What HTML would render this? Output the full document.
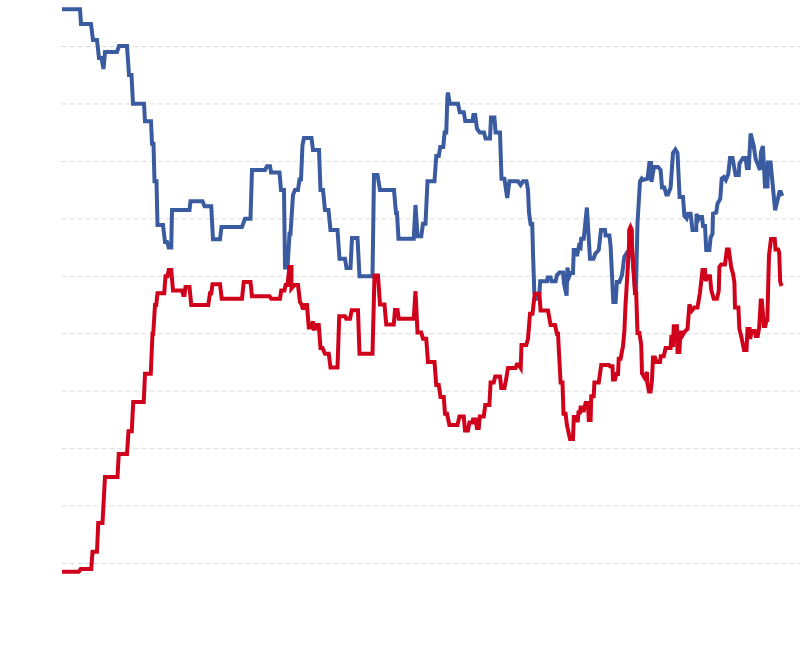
<!DOCTYPE html>
<html><head><meta charset="utf-8"><style>
html,body{margin:0;padding:0;background:#fff;font-family:"Liberation Sans",sans-serif;}
svg{display:block}
.g line{stroke:#dcdcdc;stroke-width:1;stroke-dasharray:5 3;shape-rendering:auto}
.l{fill:none;stroke-width:4;stroke-linejoin:miter;stroke-linecap:butt}
</style></head><body>
<svg width="800" height="662" viewBox="0 0 800 662">
<g class="g"><line x1="61.5" x2="800" y1="46.50" y2="46.50"/><line x1="61.5" x2="800" y1="103.94" y2="103.94"/><line x1="61.5" x2="800" y1="161.39" y2="161.39"/><line x1="61.5" x2="800" y1="218.83" y2="218.83"/><line x1="61.5" x2="800" y1="276.28" y2="276.28"/><line x1="61.5" x2="800" y1="333.72" y2="333.72"/><line x1="61.5" x2="800" y1="391.16" y2="391.16"/><line x1="61.5" x2="800" y1="448.61" y2="448.61"/><line x1="61.5" x2="800" y1="506.05" y2="506.05"/><line x1="61.5" x2="800" y1="563.50" y2="563.50"/></g>
<polyline class="l" stroke="#3a5ba0" points="62,9.25 80,9.25 81,24 91,24 93,40 97,40 99,58 101.5,58 103.5,69 105,52 117,52 119,46 127,46 129,75 131.5,75 133,103.75 144,103.75 145,121.25 151,121.25 152,143.75 153.5,143.75 154.5,181.25 156.5,181.25 157.5,225 163,225 165,242 167,242 168.75,247.5 171.25,247.5 172,210 189.5,210 190.5,201.25 202.5,201.25 204.5,206.25 211.25,206.25 213,239.25 220,239.25 221.5,227 242,227 245,218.75 250.5,218.75 252,170 265,170 267,166.25 270,166.25 271,172.5 279.5,172.5 281,190 284,190 285,267.5 287.5,267.5 289.5,233.75 290.5,233.75 293,195 295,190 298,190 299.5,179.5 301,179.5 302.5,145 304,138 311.5,138 313,150 319,150 320.5,190 323,190 325,210 328.5,210 330.5,230 337.5,230 339.5,258.75 345,258.75 346.5,268 350.5,268 352,238 357.5,238 359.5,276.25 372.5,276.25 374,175 377.5,175 380,190 394,190 396,213 397,213 398.5,238.75 413.75,238.75 415.5,205 417.5,236.25 421.25,236.25 423,223.75 425.5,223.75 427.5,181.25 434.5,181.25 436.25,156 438.75,156 440.25,147 443.25,147 444.6,132.5 446.25,132.5 447.4,97 448,92.5 449.75,103.75 458,103.75 459.75,112.25 463.75,112.25 465.25,121 472.5,121 473.4,115 475.2,115 477,128.75 479.75,132.5 484,132.5 485.6,138.5 490,138.5 491,117.5 494.4,117.5 495.6,132.5 500,132.5 501.5,178.75 504.4,178.75 507.25,198 509.4,181.25 518,181.25 520.6,185 523,181.25 526.5,181.25 528,190 529,212.5 530.6,224 532.25,224 533,253 534.3,292 535.6,298.8 537,298.8 539.5,292 540.2,281.25 547,281.25 547.75,277.5 550.6,277.5 551.5,281.25 555.6,281.25 557,275 559.4,272.5 563,272.5 564,283.75 566.6,295.6 567.4,267.5 569,277 570.6,273 573,273 573.75,250 576.5,250 577,256 579,246 580.6,247.5 581.25,238.75 583.75,238.75 586.9,207.5 590,258.75 593.5,258.75 595.3,253.75 598.75,250 601,230 605,230 605.6,235.6 609.4,235.6 610.6,246 613.3,302 615.6,302 616.9,282 619.4,282 622,275 624.3,257 627,252.5 632,252.5 635,289 636,289 637.5,223 640,181.25 641.7,178.5 643,180 647.5,178.75 649.4,163 651,163 651.5,182 654,167 658,167 660.6,170 662,187.5 664.4,187.5 666.25,194.4 668,194.4 670.6,187.5 673,153 675.4,149.5 677.5,153 679.6,197 683,197 684.4,216 686.6,218.5 688,213.75 690.6,213.75 692.5,230 696.25,230 696.5,213.75 698,220 699.4,217 702,217 703,226 705,226 706.25,250 709.4,250 710.6,237.5 712.5,233.75 713,213.75 716.25,212.5 717.5,203.75 720.3,198.75 721.7,178.5 723.75,177 725.8,180 728.3,174 730,158 732.5,158 735.6,175 738.75,175 739.4,163.75 743,158 745.6,158 746.9,168 748.75,168 750.6,133.5 753.75,146.25 755.6,158.75 760,170 761,152 762.9,146 765,186.5 767.5,186.5 768,162.5 770.6,162.5 775.1,210.3 779.5,192 780.8,192 782.2,196"/>
<polyline class="l" stroke="#d0021b" points="62,571.75 78.75,571.75 80.75,569 91.25,569 92.5,551.75 97,551.75 98.25,523 102.5,523 105,477 117.5,477 118.75,454 127,454 128.5,431.25 131.75,431.25 133.25,402 143.75,402 145,373.75 150.75,373.75 152.5,333.75 153.25,333.75 155,305 156.25,305 157.5,293.25 164.25,293.25 165.5,276.25 167.5,276.25 168.75,270 171.25,270 173,290.5 182,290.5 183.25,295 184.5,295 185.5,287 189.5,287 191.25,305 208.25,305 210,293.25 211.25,293.25 212.5,284.25 220,284.25 221.75,298.75 242,298.75 243.75,282 250.5,282 252,296.25 269.5,296.25 271.25,298.75 280,298.75 281.25,290.6 284.4,290.6 285.6,285 287.5,285 289.4,267 291.5,267 291.4,288.5 294.4,285 298,285 300,302 301.5,304.4 302.6,308 304.3,308 305,305 307,305 308.75,327.5 311.25,327.5 313,321.25 313.75,328.75 315,328.75 315.6,325 318.75,325 320.5,348 322.5,348 325,353.75 328.75,353.75 330.5,367.5 337.5,367.5 339.25,316.25 345,316.25 346.25,318.75 350,318.75 351.75,310.3 358,310.3 359.5,353.75 372.5,353.75 374.5,275.5 378,275.5 380,304.5 384.5,304.5 386.25,324.5 393.75,324.5 395,310 397.5,310 398.75,318.75 413.75,318.75 415.5,291.25 417.5,332.5 421.25,332.5 423,338.75 426.25,338.75 428,362 434.5,362 436.25,385 438.75,385 440.5,397 443.75,397 445,413.75 447,413.75 449.4,425 457.5,425 459.4,416.5 463.75,416.5 465,430.5 468,430.5 469.4,422.5 472.5,422.5 473,419.5 475.6,419.5 476.9,428 478.75,428 479.75,416.5 483.75,416.5 485.25,405 489.4,405 490.6,382.5 493.75,382.5 495.25,376.5 500,376.5 501.25,388 504.4,388 506.25,378.75 508,368 515.6,368 516.9,364.5 518.5,364.5 520.7,368 521.5,345 526.25,345 528,338.75 530,313.75 532.5,313.75 534.75,293.75 539.4,293.75 540.6,310.6 548,310.6 550.6,325 555,325 556.9,333.75 558,333.75 560.6,382.5 562.5,382.5 563.5,413.75 565.6,413.75 566.9,425 570,439 573,439 573.8,417 575.5,417 576.5,420.5 577.8,420.5 578.5,412.5 580,412.5 580.6,407.5 583,407.5 583.5,412 585.6,403 588,403 588.75,420 590.6,420 591.25,396.25 593.75,396.25 594.4,382.5 598.75,382.5 601.25,365 609,365 610,366.25 612.5,366.25 613,379.4 615,379.4 616.5,374 618,374 618.75,358.75 620.6,358.75 623,346.25 624.4,331 625.5,305 627.3,276 629,245 629.2,230 630.5,227 631.8,230 632,245 634,276 635,293 636.2,293 637.5,333 639.4,333 641.25,345 642,373.5 644.4,377.5 647,372 647.25,382.5 649,391.5 650.6,391.5 652,380 653,357.5 655,357.5 656.5,362 660,362 660.8,356.25 663.75,356.25 665.6,348 670.6,348 671.5,335 673,347 673.75,326.25 676.9,326.25 677.5,352 679.4,352 680.6,330.6 681.25,337.5 685,331.25 687.5,329 689.4,304.5 691.9,310.6 694.4,307.5 697.5,307.5 700,292.5 702.5,270 705,270 705.6,281.25 707,276.25 710,276.25 711.25,290 713.75,298.75 716.9,298.75 718.75,291 719.4,267 721.25,264.4 725,264.4 726.9,249.5 728.75,249.5 731.25,267.5 733,273.75 734.4,282.5 735,307.5 738.4,307.5 739.4,329 741.4,337 744,350 746.5,350 747.5,329 749.6,329 750.2,339 751.6,331 754.7,331 755.7,336 757.75,336 759.2,327 760.8,300.5 761.8,300.5 763.9,326 765.3,326 766.5,320 767.3,320 769,255.6 771,239 774.7,239 775.5,249.5 778.2,249.5 779.2,252.5 780.2,282 781.6,286"/>
</svg>
</body></html>
